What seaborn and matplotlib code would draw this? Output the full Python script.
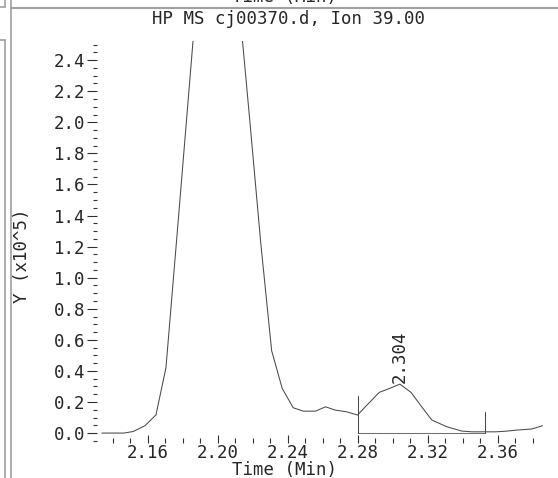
import numpy as np
import pandas as pd
import matplotlib.pyplot as plt
import seaborn as sns
from matplotlib.lines import Line2D
from matplotlib.ticker import MultipleLocator

# Ion 39 trace, time in min, abundance in units of 1e5
time_min = [2.1337, 2.1400, 2.1463, 2.1516, 2.1583, 2.1646, 2.1703, 2.1766,
            2.1829, 2.1891, 2.1954, 2.2011, 2.2069, 2.2122, 2.2183, 2.2245,
            2.2307, 2.2367, 2.2430, 2.2487, 2.2558, 2.2615, 2.2669, 2.2735,
            2.2798, 2.2860, 2.2922, 2.2983, 2.3040, 2.3103, 2.3164, 2.3222,
            2.3307, 2.3393, 2.3451, 2.3526, 2.3589, 2.3646, 2.3707, 2.3793,
            2.3855]
abundance = [0.0, 0.0, 0.0, 0.01, 0.047, 0.117, 0.42, 1.27,
             2.13, 2.98, 3.6, 3.8, 3.5, 2.75, 2.0, 1.22,
             0.53, 0.288, 0.163, 0.141, 0.141, 0.169, 0.148, 0.137,
             0.116, 0.19, 0.262, 0.288, 0.315, 0.262, 0.17, 0.084,
             0.041, 0.013, 0.008, 0.008, 0.008, 0.012, 0.019, 0.026,
             0.047]

# integrated peak: start/end times and marker heights
peak_label = "2.304"
peak_time = 2.304
peak_height = 0.315
int_start, int_end = 2.28, 2.3526
start_mark, end_mark = 0.238, 0.135

xtick_vals = [2.16, 2.20, 2.24, 2.28, 2.32, 2.36]
ytick_vals = [0.0, 0.2, 0.4, 0.6, 0.8, 1.0, 1.2, 1.4, 1.6, 1.8, 2.0, 2.2, 2.4]

df = pd.DataFrame({"Time": time_min, "Y": abundance})

sns.set_style("white")
plt.rcParams["font.family"] = ["DejaVu Sans Mono", "DejaVu Sans"]

PX = 72 / 100  # points per pixel
FS = 12.5

fig = plt.figure(figsize=(5.58, 4.78), dpi=100)
ax = fig.add_axes([97 / 558, 35 / 478, 448 / 558, 402 / 478])

trace_color = "#4a4a4a"
sns.lineplot(data=df, x="Time", y="Y", ax=ax, color=trace_color, lw=0.75,
             sort=False, estimator=None)

# integration baseline and markers
ax.plot([int_start, int_end], [0, 0], color="#707070", lw=0.75)
ax.plot([int_start, int_start], [0, start_mark], color=trace_color, lw=0.75)
ax.plot([int_end, int_end], [0, end_mark], color=trace_color, lw=0.75)
ax.annotate(peak_label, xy=(peak_time, peak_height), xytext=(0, 1),
            textcoords="offset points", rotation=90, ha="center", va="bottom",
            fontsize=FS)

ax.set_xlim(2.1309, 2.3869)
ax.set_ylim(-0.064, 2.523)
ax.xaxis.set_minor_locator(MultipleLocator(0.01))
ax.yaxis.set_minor_locator(MultipleLocator(0.05))
ax.set_xticks(xtick_vals)
ax.set_xticklabels([f"{v:.2f}" for v in xtick_vals])
ax.set_yticks(ytick_vals)
ax.set_yticklabels([f"{v:.1f}" for v in ytick_vals])

ax.tick_params(axis="x", which="major", direction="in", length=8 * PX,
               width=0.8, color="#303030", labelsize=FS, pad=1)
ax.tick_params(axis="x", which="minor", direction="in", length=5 * PX,
               width=0.8, color="#303030")
ax.tick_params(axis="y", which="major", direction="out", length=10 * PX,
               width=0.8, color="#303030", labelsize=FS, pad=1)
ax.tick_params(axis="y", which="minor", direction="out", length=4 * PX,
               width=0.8, color="#303030")
ax.tick_params(bottom=True, left=True, which="both")
for s in ax.spines.values():
    s.set_visible(False)
ax.set_xlabel("")
ax.set_ylabel("")

fig.text(289 / 558, 1 - 19 / 478, "HP MS cj00370.d, Ion 39.00",
         ha="center", va="center", fontsize=FS)
fig.text(285 / 558, 1 - 470 / 478, "Time (Min)", ha="center", va="center",
         fontsize=FS)
# label of the panel above, cut by the window edge
fig.text(285 / 558, 1 - 6 / 478, "Time (Min)", ha="center", va="bottom",
         fontsize=FS)
fig.text(22 / 558, 1 - 256 / 478, "Y (x10^5)", ha="center", va="center",
         rotation=90, fontsize=FS)

# window frame lines
W, H = 558, 478
frame = "#a0a0a0"
def fline(x0, y0, x1, y1, lw=1.2, c=frame):
    fig.add_artist(Line2D([x0 / W, x1 / W], [1 - y0 / H, 1 - y1 / H],
                          color=c, lw=lw, transform=fig.transFigure))

fline(11, 0, 11, H)
fline(11, 8, W, 8, lw=1.5)
fline(5, 40, 5, H)
fline(0, 40, 5, 40)
fline(0, 7, 5, 7)
fline(5, 0, 5, 7)

fig.savefig("out.png", dpi=100)
